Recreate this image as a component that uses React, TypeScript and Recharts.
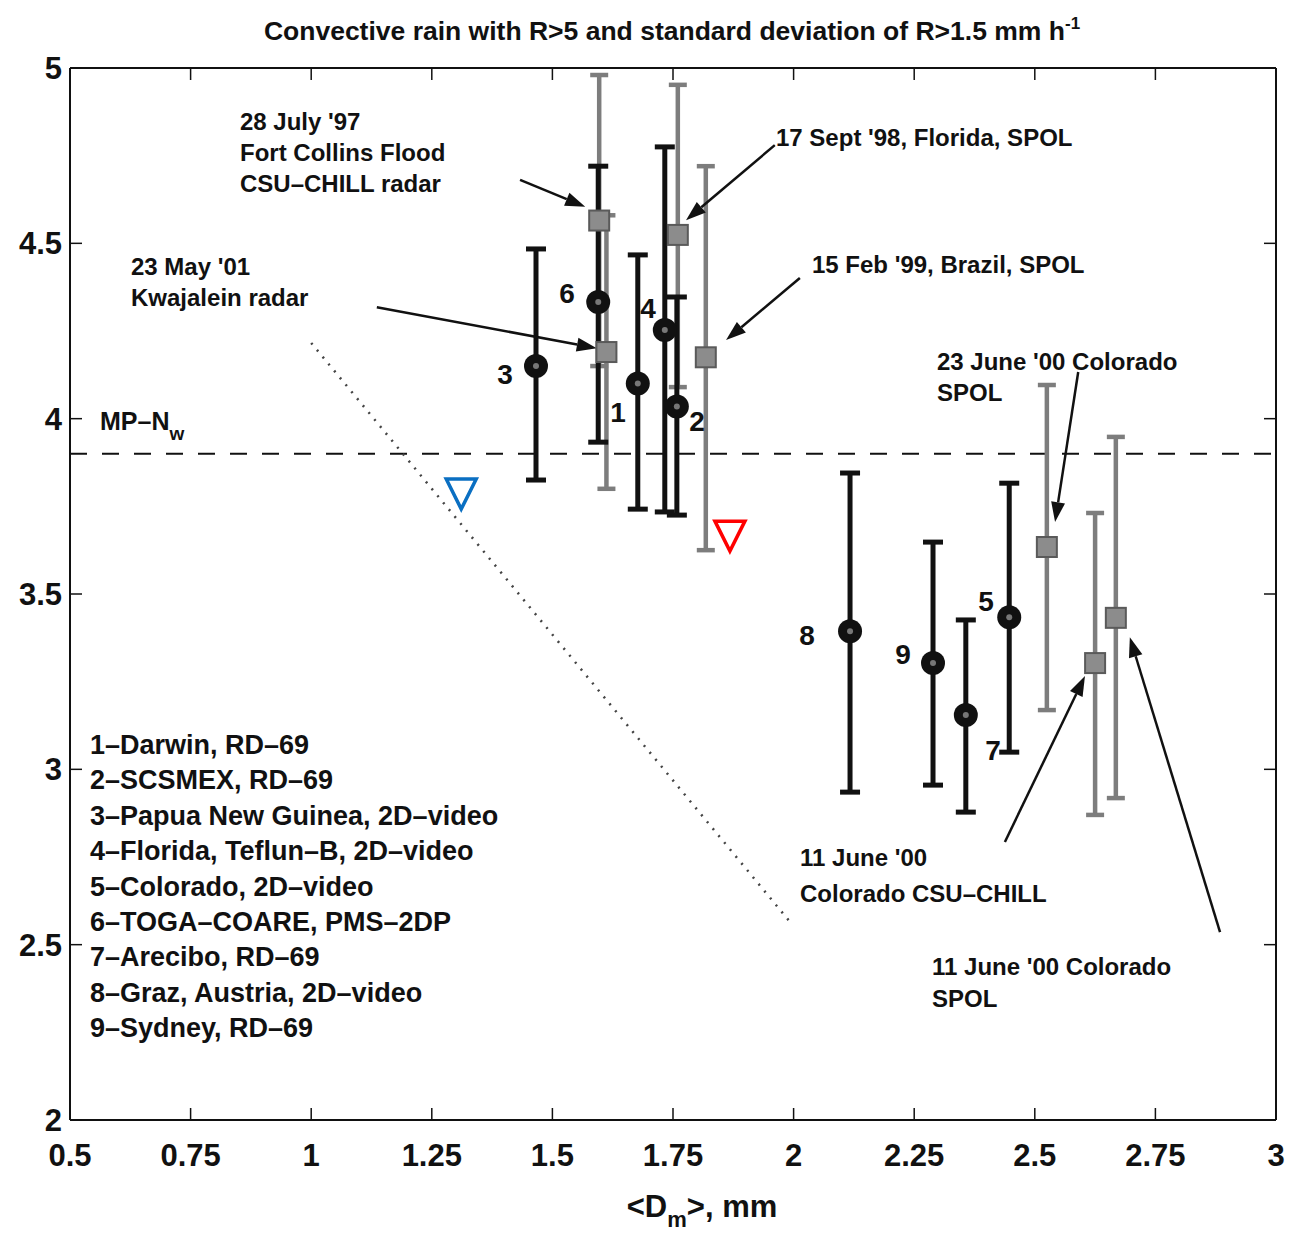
import React from "react";
import {
  ScatterChart,
  Scatter,
  XAxis,
  YAxis,
  ErrorBar,
  ReferenceLine,
} from "recharts";

const FONT = '"Liberation Sans", Arial, Helvetica, sans-serif';

const X_TICKS = [0.5, 0.75, 1, 1.25, 1.5, 1.75, 2, 2.25, 2.5, 2.75, 3];
const Y_TICKS = [2, 2.5, 3, 3.5, 4, 4.5, 5];
const X_INNER = [0.75, 1, 1.25, 1.5, 1.75, 2, 2.25, 2.5, 2.75];
const Y_INNER = [2.5, 3, 3.5, 4, 4.5];

// disdrometer sites (black circles)
const siteNames = ["1", "2", "3", "4", "5", "6", "7", "8", "9"];
const siteX = [1.677, 1.758, 1.466, 1.733, 2.447, 1.595, 2.357, 2.117, 2.289];
const siteY = [4.1, 4.035, 4.15, 4.253, 3.434, 4.333, 3.155, 3.394, 3.303];
const siteLo = [3.742, 3.725, 3.825, 3.734, 3.049, 3.933, 2.878, 2.935, 2.955];
const siteHi = [4.467, 4.347, 4.484, 4.775, 3.816, 4.72, 3.426, 3.845, 3.648];

// radar cases (grey squares)
const radarNames = [
  "28 July '97",
  "23 May '01",
  "17 Sept '98",
  "15 Feb '99",
  "23 June '00",
  "11 June '00 CHILL",
  "11 June '00 SPOL",
];
const radarX = [1.597, 1.612, 1.76, 1.818, 2.525, 2.625, 2.668];
const radarY = [4.565, 4.19, 4.524, 4.175, 3.634, 3.303, 3.432];
const radarLo = [4.15, 3.8, 4.09, 3.625, 3.169, 2.87, 2.918];
const radarHi = [4.98, 4.58, 4.952, 4.72, 4.096, 3.731, 3.948];

const MP_NW = 3.9;

const blueMark = [{ x: 1.311, y: 3.785 }];
const redMark = [{ x: 1.868, y: 3.665 }];

const legendLines = [
  "1–Darwin, RD–69",
  "2–SCSMEX, RD–69",
  "3–Papua New Guinea, 2D–video",
  "4–Florida, Teflun–B, 2D–video",
  "5–Colorado, 2D–video",
  "6–TOGA–COARE, PMS–2DP",
  "7–Arecibo, RD–69",
  "8–Graz, Austria, 2D–video",
  "9–Sydney, RD–69",
];

// arrows: start -> end (data coords)
const arrows = [
  [{ x: 1.433, y: 4.681 }, { x: 1.568, y: 4.604 }],
  [{ x: 1.961, y: 4.78 }, { x: 1.777, y: 4.566 }],
  [{ x: 2.013, y: 4.401 }, { x: 1.86, y: 4.224 }],
  [{ x: 1.136, y: 4.318 }, { x: 1.592, y: 4.201 }],
  [{ x: 2.59, y: 4.133 }, { x: 2.542, y: 3.705 }],
  [{ x: 2.438, y: 2.793 }, { x: 2.604, y: 3.266 }],
  [{ x: 2.884, y: 2.536 }, { x: 2.697, y: 3.377 }],
];

const dottedLine = [
  { x: 1.0, y: 4.216 },
  { x: 1.9925, y: 2.565 },
];

const siteData = siteNames.map((name, i) => ({
  name,
  x: siteX[i],
  y: siteY[i],
  err: [siteY[i] - siteLo[i], siteHi[i] - siteY[i]],
}));

const radarData = radarNames.map((name, i) => ({
  name,
  x: radarX[i],
  y: radarY[i],
  err: [radarY[i] - radarLo[i], radarHi[i] - radarY[i]],
}));

const XTick = (props: any) => {
  const { x, y, payload } = props;
  return (
    <g>
      <line x1={x} y1={y} x2={x} y2={y - 12} stroke="#111" strokeWidth={1.5} />
      <text
        x={x}
        y={y + 46}
        textAnchor="middle"
        fontFamily={FONT}
        fontWeight="bold"
        fontSize={31}
        fill="#111"
      >
        {String(payload.value)}
      </text>
    </g>
  );
};

const YTick = (props: any) => {
  const { x, y, payload } = props;
  return (
    <g>
      <line x1={x} y1={y} x2={x + 12} y2={y} stroke="#111" strokeWidth={1.5} />
      <text
        x={x - 8}
        y={y + 11}
        textAnchor="end"
        fontFamily={FONT}
        fontWeight="bold"
        fontSize={31}
        fill="#111"
      >
        {String(payload.value)}
      </text>
    </g>
  );
};

const Circle = (props: any) => {
  const { cx, cy } = props;
  return (
    <g>
      <circle cx={cx} cy={cy} r={12} fill="#111" />
      <circle cx={cx} cy={cy} r={3} fill="#777" />
    </g>
  );
};

const Square = (props: any) => {
  const { cx, cy } = props;
  return (
    <rect
      x={cx - 10}
      y={cy - 10}
      width={20}
      height={20}
      fill="#8c8c8c"
      stroke="#5a5a5a"
      strokeWidth={2}
    />
  );
};

const triangle = (color: string) => (props: any) => {
  const { cx, cy } = props;
  const w = 15;
  const h = 15;
  return (
    <polygon
      points={`${cx - w},${cy - h} ${cx + w},${cy - h} ${cx},${cy + h}`}
      fill="none"
      stroke={color}
      strokeWidth={3.5}
    />
  );
};

const Arrow = (props: any) => {
  const { x1, y1, x2, y2 } = props;
  const dx = x2 - x1;
  const dy = y2 - y1;
  const len = Math.hypot(dx, dy) || 1;
  const ux = dx / len;
  const uy = dy / len;
  const hl = 20;
  const hw = 7;
  const bx = x2 - ux * hl;
  const by = y2 - uy * hl;
  const pts = `${x2},${y2} ${bx - uy * hw},${by + ux * hw} ${bx + uy * hw},${by - ux * hw}`;
  return (
    <g>
      <line x1={x1} y1={y1} x2={bx} y2={by} stroke="#111" strokeWidth={2.5} />
      <polygon points={pts} fill="#111" />
    </g>
  );
};

// short inner tick on top / right frame edges
const TopTickMark = (props: any) => {
  const { x1, y1 } = props;
  return <line x1={x1} y1={y1} x2={x1} y2={y1 + 12} stroke="#111" strokeWidth={1.5} />;
};
const RightTickMark = (props: any) => {
  const { x1, y1 } = props;
  return <line x1={x1} y1={y1} x2={x1 - 12} y2={y1} stroke="#111" strokeWidth={1.5} />;
};

const txt = {
  fontFamily: FONT,
  fontWeight: "bold" as const,
  fill: "#111",
};

const Overlay = () => (
  <svg
    width={1304}
    height={1236}
    style={{ position: "absolute", left: 0, top: 0, pointerEvents: "none" }}
  >
    <text x={672} y={40} textAnchor="middle" fontSize={26.5} {...txt}>
      Convective rain with R&gt;5 and standard deviation of R&gt;1.5 mm h
      <tspan dy={-11} fontSize={17}>
        -1
      </tspan>
    </text>

    <text x={702} y={1217} textAnchor="middle" fontSize={31} {...txt}>
      &lt;D
      <tspan dy={10} fontSize={22}>
        m
      </tspan>
      <tspan dy={-10}>&gt;, mm</tspan>
    </text>

    <text x={100} y={430} fontSize={25} {...txt}>
      MP–N
      <tspan dy={10} fontSize={19}>
        w
      </tspan>
    </text>

    {legendLines.map((l, i) => (
      <text key={l} x={90} y={754 + i * 35.4} fontSize={27} {...txt}>
        {l}
      </text>
    ))}

    <g fontSize={28} textAnchor="middle" {...txt}>
      <text x={505} y={384}>3</text>
      <text x={567} y={303}>6</text>
      <text x={648} y={318}>4</text>
      <text x={618} y={422}>1</text>
      <text x={697} y={431}>2</text>
      <text x={807} y={645}>8</text>
      <text x={903} y={664}>9</text>
      <text x={986} y={611}>5</text>
      <text x={993} y={760}>7</text>
    </g>

    <g fontSize={24} {...txt}>
      <text x={240} y={130}>28 July '97</text>
      <text x={240} y={161}>Fort Collins Flood</text>
      <text x={240} y={192}>CSU–CHILL radar</text>
      <text x={131} y={275}>23 May '01</text>
      <text x={131} y={306}>Kwajalein radar</text>
      <text x={776} y={146}>17 Sept '98, Florida, SPOL</text>
      <text x={812} y={273}>15 Feb '99, Brazil, SPOL</text>
      <text x={937} y={370}>23 June '00 Colorado</text>
      <text x={937} y={401}>SPOL</text>
      <text x={800} y={866}>11 June '00</text>
      <text x={800} y={902}>Colorado CSU–CHILL</text>
      <text x={932} y={975}>11 June '00 Colorado</text>
      <text x={932} y={1007}>SPOL</text>
    </g>
  </svg>
);

export default function App() {
  return (
    <div
      style={{
        position: "absolute",
        left: 0,
        top: 0,
        width: 1304,
        height: 1236,
        background: "#fff",
      }}
    >
      <ScatterChart
        width={1304}
        height={1236}
        margin={{ top: 68, right: 28, bottom: 56, left: 8 }}
      >
        <XAxis
          type="number"
          dataKey="x"
          domain={[0.5, 3]}
          ticks={X_TICKS}
          allowDataOverflow
          height={60}
          tickSize={0}
          tickMargin={0}
          axisLine={{ stroke: "#111", strokeWidth: 2 }}
          tick={<XTick />}
        />
        <YAxis
          type="number"
          dataKey="y"
          domain={[2, 5]}
          ticks={Y_TICKS}
          allowDataOverflow
          width={62}
          tickSize={0}
          tickMargin={0}
          axisLine={{ stroke: "#111", strokeWidth: 2 }}
          tick={<YTick />}
        />

        {/* frame: top and right edges with inward ticks */}
        <ReferenceLine y={5} stroke="#111" strokeWidth={2} ifOverflow="visible" />
        <ReferenceLine x={3} stroke="#111" strokeWidth={2} ifOverflow="visible" />
        {X_INNER.map((v) => (
          <ReferenceLine
            key={`tx-${v}`}
            segment={[{ x: v, y: 5 }, { x: v, y: 5 }]}
            shape={TopTickMark}
            ifOverflow="visible"
          />
        ))}
        {Y_INNER.map((v) => (
          <ReferenceLine
            key={`ry-${v}`}
            segment={[{ x: 3, y: v }, { x: 3, y: v }]}
            shape={RightTickMark}
            ifOverflow="visible"
          />
        ))}

        <ReferenceLine
          y={MP_NW}
          stroke="#111"
          strokeWidth={2}
          strokeDasharray="17 15"
        />
        <ReferenceLine
          segment={dottedLine}
          stroke="#444"
          strokeWidth={2.5}
          strokeDasharray="2 7"
        />

        <Scatter data={radarData} shape={Square} isAnimationActive={false}>
          <ErrorBar
            dataKey="err"
            direction="y"
            width={9}
            strokeWidth={4.5}
            stroke="#7d7d7d"
          />
        </Scatter>
        <Scatter data={siteData} shape={Circle} isAnimationActive={false}>
          <ErrorBar
            dataKey="err"
            direction="y"
            width={10}
            strokeWidth={5}
            stroke="#111"
          />
        </Scatter>
        <Scatter data={blueMark} shape={triangle("#0a6fc2")} isAnimationActive={false} />
        <Scatter data={redMark} shape={triangle("#ff0000")} isAnimationActive={false} />

        {arrows.map((seg, i) => (
          <ReferenceLine key={`arrow-${i}`} segment={seg} shape={Arrow} ifOverflow="visible" />
        ))}
      </ScatterChart>
      <Overlay />
    </div>
  );
}
